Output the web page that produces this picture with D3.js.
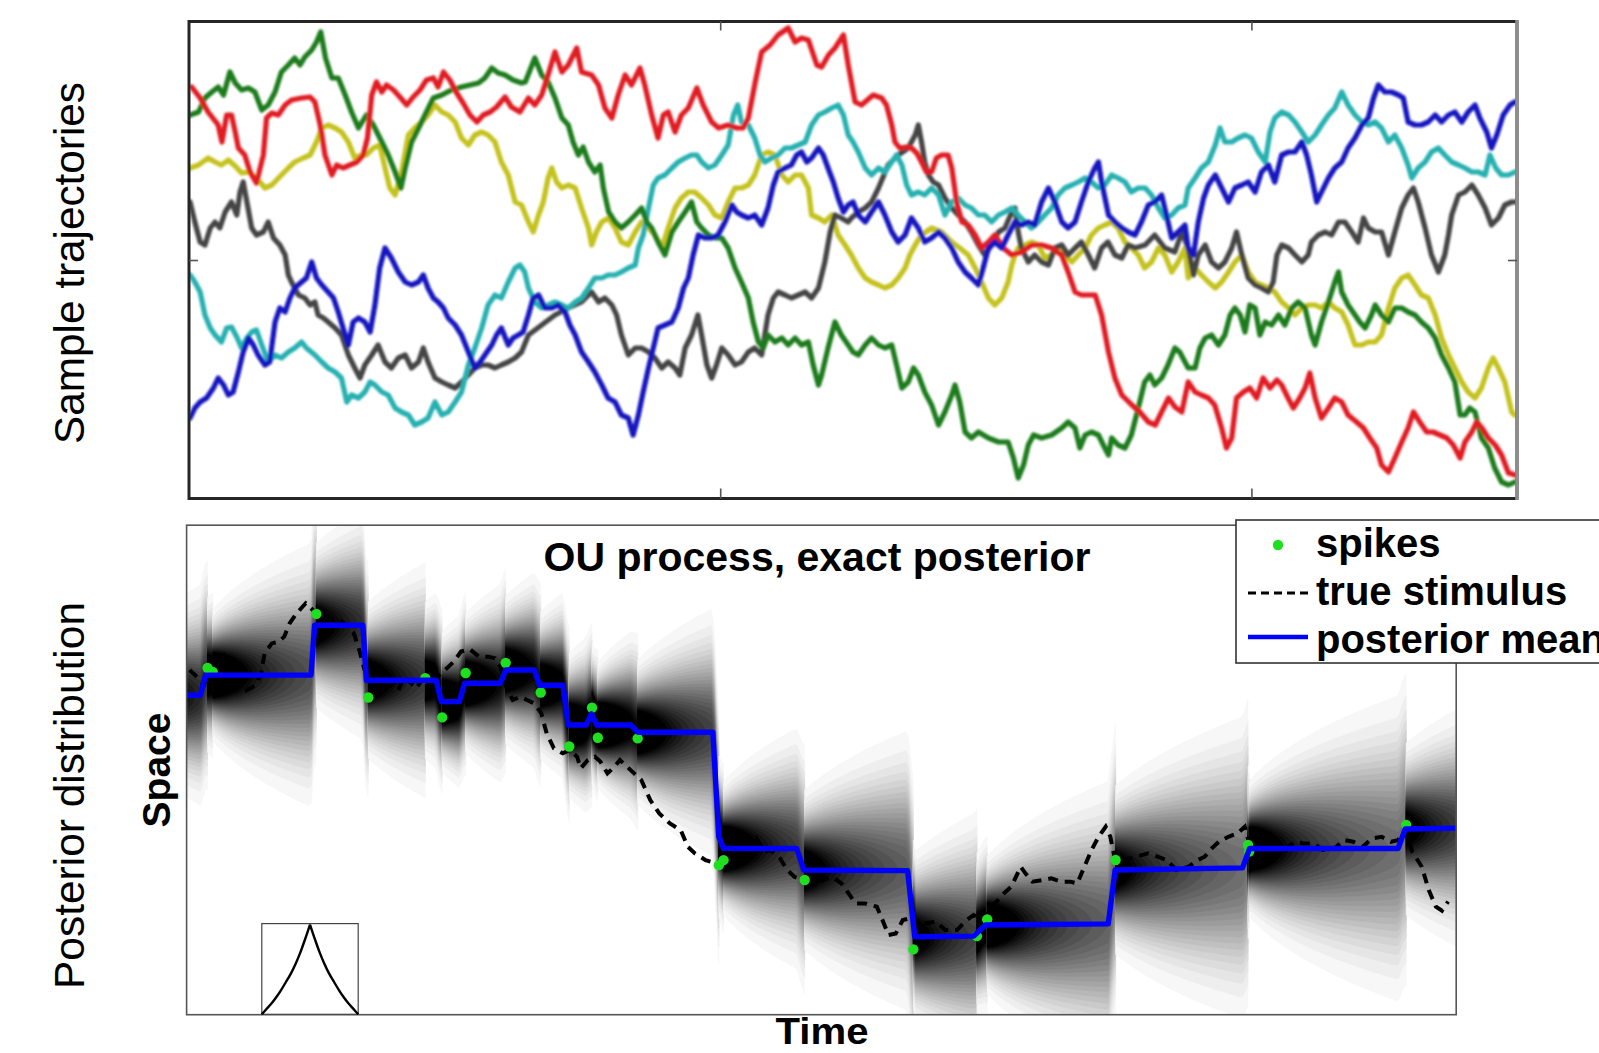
<!DOCTYPE html>
<html>
<head>
<meta charset="utf-8">
<script src="https://cdn.jsdelivr.net/npm/d3@7"></script>
<style>
  html, body { margin: 0; padding: 0; background: #fff; }
  svg { display: block; }
</style>
</head>
<body>
<svg id="fig" width="1599" height="1053"></svg>
<script>
// ---------------- Top panel: sample OU trajectories, [time, value] ----------------
const sampleRed = [[0.5,1.73],[2.1,1.62],[3.6,1.48],[5.5,1.35],[6.2,1.18],[7.1,1.45],[8.0,1.45],[8.7,1.28],[9.3,1.12],[10.5,1.05],[11.5,0.88],[12.7,0.77],[14.0,1.05],[14.6,1.42],[15.6,1.47],[16.8,1.45],[18.1,1.55],[19.3,1.60],[21.2,1.62],[22.8,1.63],[23.7,1.58],[24.7,1.35],[25.6,1.05],[26.9,0.85],[27.8,0.95],[29.0,0.92],[30.3,0.95],[31.6,0.98],[32.8,1.05],[33.6,1.22],[34.4,1.65],[35.3,1.78],[36.3,1.68],[37.2,1.75],[38.5,1.70],[39.7,1.63],[41.0,1.55],[42.2,1.63],[43.5,1.70],[44.7,1.80],[46.0,1.82],[46.9,1.73],[47.9,1.88],[49.1,1.80],[50.4,1.67],[51.6,1.57],[52.9,1.45],[54.2,1.38],[55.4,1.45],[56.7,1.48],[57.9,1.53],[59.5,1.63],[60.7,1.53],[62.3,1.48],[63.9,1.62],[65.1,1.55],[66.4,1.65],[67.6,1.85],[68.9,2.08],[70.2,1.88],[71.4,1.95],[73.0,2.12],[73.9,1.88],[75.8,1.85],[77.1,1.75],[78.3,1.52],[79.6,1.42],[80.8,1.65],[82.1,1.85],[83.3,1.75],[84.9,1.92],[85.8,1.75],[87.1,1.45],[88.3,1.22],[89.3,1.45],[90.2,1.48],[91.5,1.28],[92.7,1.45],[94.0,1.52],[95.6,1.72],[96.8,1.55],[98.4,1.38],[99.7,1.32],[101.5,1.35],[103.1,1.32],[104.3,1.32],[105.3,1.42],[106.6,1.78],[107.8,2.08],[109.4,2.15],[110.9,2.25],[112.8,2.32],[114.1,2.18],[115.3,2.22],[116.6,2.20],[118.2,1.95],[119.1,1.93],[120.4,2.05],[121.6,2.12],[123.2,2.25],[124.1,1.95],[125.4,1.58],[126.6,1.55],[128.8,1.65],[130.4,1.62],[131.3,1.55],[132.3,1.35],[132.9,1.18],[133.8,1.12],[135.1,1.13],[136.0,1.12],[137.0,1.07],[137.9,0.98],[138.8,0.88],[139.8,0.88],[140.7,1.02],[141.7,1.05],[142.9,1.05],[143.6,0.92],[144.5,0.58],[145.5,0.38],[146.7,0.35],[148.0,0.25],[149.2,0.12],[150.5,0.18],[151.7,0.25],[153.3,0.12],[154.9,0.05],[156.7,0.08],[158.6,0.15],[160.5,0.15],[162.4,0.12],[164.3,0.05],[165.5,-0.12],[166.8,-0.32],[168.0,-0.35],[170.6,-0.35],[171.8,-0.55],[173.1,-0.92],[174.3,-1.18],[175.6,-1.35],[177.5,-1.45],[179.0,-1.52],[180.6,-1.62],[181.9,-1.65],[183.1,-1.52],[184.4,-1.38],[185.6,-1.47],[186.9,-1.52],[188.1,-1.22],[189.4,-1.32],[190.6,-1.35],[191.9,-1.38],[193.1,-1.45],[194.4,-1.68],[195.3,-1.88],[196.3,-1.78],[197.2,-1.38],[198.5,-1.32],[199.7,-1.28],[201.0,-1.38],[202.2,-1.18],[203.5,-1.28],[204.8,-1.20],[205.7,-1.25],[206.9,-1.38],[207.9,-1.48],[209.1,-1.38],[210.1,-1.28],[211.0,-1.13],[212.0,-1.38],[213.2,-1.58],[214.5,-1.48],[215.7,-1.38],[217.0,-1.42],[218.2,-1.55],[219.8,-1.62],[221.1,-1.68],[222.3,-1.78],[223.6,-1.88],[224.5,-2.05],[225.8,-2.12],[227.0,-1.98],[228.3,-1.82],[229.5,-1.68],[230.5,-1.52],[231.7,-1.62],[233.0,-1.72],[234.2,-1.72],[235.5,-1.75],[236.8,-1.78],[238.0,-1.85],[239.3,-1.98],[240.2,-1.82],[241.5,-1.72],[242.4,-1.62],[243.4,-1.68],[244.6,-1.78],[245.9,-1.85],[247.1,-1.95],[248.4,-2.13],[249.7,-2.15]];

const sampleGreen = [[0.2,1.45],[1.8,1.48],[3.0,1.62],[4.3,1.68],[5.5,1.73],[6.5,1.65],[7.7,1.88],[8.7,1.77],[9.9,1.70],[11.2,1.72],[12.4,1.68],[13.7,1.50],[14.9,1.55],[16.2,1.68],[17.4,1.88],[18.7,1.95],[19.9,2.02],[20.9,1.95],[21.8,2.03],[23.1,2.10],[24.0,2.18],[24.8,2.28],[25.7,2.02],[26.9,1.82],[28.1,1.82],[29.4,1.65],[30.6,1.48],[31.9,1.32],[33.4,1.45],[34.7,1.35],[36.3,1.18],[37.5,1.05],[38.8,0.88],[39.9,0.72],[40.7,0.92],[41.9,1.18],[43.5,1.35],[44.7,1.48],[46.0,1.62],[47.6,1.65],[49.4,1.70],[51.3,1.73],[52.9,1.75],[54.5,1.77],[55.7,1.82],[57.0,1.92],[58.2,1.87],[59.5,1.85],[61.0,1.80],[62.6,1.77],[63.3,1.78],[65.1,2.02],[66.4,1.85],[67.6,1.78],[68.9,1.62],[70.2,1.42],[71.4,1.35],[72.3,1.18],[73.3,1.05],[74.2,1.13],[75.2,0.98],[76.4,0.88],[77.4,0.95],[78.0,0.72],[79.0,0.48],[80.2,0.38],[81.4,0.32],[82.7,0.38],[84.0,0.45],[85.2,0.52],[86.2,0.38],[87.1,0.32],[88.3,0.18],[89.6,0.05],[90.9,0.28],[92.1,0.38],[93.4,0.48],[94.6,0.58],[95.6,0.38],[96.5,0.32],[97.8,0.25],[99.0,0.22],[100.3,0.22],[101.5,0.12],[102.8,-0.08],[104.0,-0.22],[105.3,-0.38],[106.2,-0.62],[107.2,-0.82],[108.1,-0.88],[109.0,-0.75],[110.3,-0.82],[111.6,-0.78],[112.8,-0.85],[114.1,-0.78],[115.3,-0.85],[116.6,-0.82],[117.5,-1.05],[118.5,-1.25],[119.1,-1.15],[120.3,-0.88],[121.6,-0.62],[122.8,-0.75],[124.1,-0.85],[125.0,-0.92],[126.0,-0.95],[127.3,-0.85],[128.5,-0.78],[129.8,-0.85],[131.0,-0.88],[132.3,-0.85],[133.2,-1.05],[134.2,-1.28],[135.4,-1.22],[136.4,-1.08],[137.3,-1.15],[138.5,-1.32],[139.8,-1.45],[141.1,-1.65],[142.3,-1.52],[143.6,-1.35],[144.2,-1.25],[145.1,-1.42],[146.1,-1.72],[147.3,-1.78],[148.6,-1.72],[150.5,-1.78],[152.4,-1.82],[154.2,-1.82],[155.2,-1.98],[156.1,-2.18],[157.1,-2.05],[158.0,-1.85],[159.0,-1.75],[160.5,-1.78],[162.4,-1.75],[164.3,-1.68],[165.5,-1.62],[166.8,-1.68],[167.7,-1.88],[168.7,-1.75],[169.9,-1.72],[171.2,-1.75],[172.4,-1.88],[173.1,-1.95],[173.7,-1.78],[174.9,-1.85],[176.2,-1.88],[177.4,-1.75],[178.7,-1.48],[179.9,-1.22],[180.9,-1.15],[181.8,-1.25],[183.1,-1.18],[184.3,-1.05],[185.6,-0.88],[186.5,-0.92],[187.5,-1.02],[188.1,-1.08],[189.4,-1.08],[190.3,-0.88],[191.3,-0.78],[192.5,-0.75],[193.8,-0.85],[195.0,-0.75],[196.0,-0.55],[196.9,-0.48],[197.9,-0.55],[198.8,-0.72],[199.7,-0.45],[200.7,-0.48],[201.6,-0.75],[202.6,-0.62],[203.8,-0.65],[205.1,-0.55],[206.3,-0.65],[207.6,-0.48],[208.8,-0.42],[210.1,-0.48],[211.3,-0.75],[212.0,-0.85],[213.2,-0.62],[214.5,-0.42],[215.7,-0.22],[216.4,-0.12],[217.0,-0.32],[218.2,-0.45],[219.5,-0.55],[220.4,-0.62],[221.4,-0.68],[222.6,-0.55],[223.3,-0.45],[224.5,-0.55],[225.8,-0.62],[227.0,-0.48],[228.3,-0.48],[229.5,-0.52],[230.8,-0.55],[232.0,-0.62],[233.3,-0.68],[234.6,-0.78],[235.8,-0.95],[237.1,-1.08],[238.3,-1.22],[239.3,-1.55],[240.2,-1.55],[241.1,-1.48],[242.1,-1.52],[243.3,-1.78],[244.6,-1.88],[245.8,-2.08],[247.1,-2.22],[248.4,-2.25],[249.6,-2.22]];

const sampleYellow = [[0.2,0.92],[1.8,0.95],[3.6,1.02],[4.9,0.98],[6.1,0.95],[7.4,1.0],[8.7,0.94],[9.9,0.87],[11.2,0.88],[12.7,0.82],[14.3,0.72],[15.6,0.75],[17.4,0.85],[18.7,0.92],[19.9,0.98],[21.5,1.02],[22.8,1.05],[24.0,1.18],[25.0,1.32],[26.2,1.35],[27.5,1.32],[28.7,1.28],[30.0,1.18],[31.2,1.02],[32.5,1.05],[33.4,1.05],[34.7,1.12],[35.9,1.15],[36.9,0.92],[37.8,0.72],[38.8,0.65],[40.0,0.88],[41.3,1.25],[42.5,1.32],[43.8,1.38],[45.0,1.45],[46.3,1.55],[47.6,1.48],[48.8,1.45],[50.1,1.38],[51.3,1.22],[52.6,1.15],[53.8,1.25],[55.1,1.28],[56.3,1.25],[57.6,1.18],[58.8,0.98],[60.1,0.85],[61.4,0.58],[62.6,0.55],[63.9,0.38],[64.8,0.28],[65.8,0.45],[66.7,0.58],[67.6,0.82],[68.3,0.92],[69.2,0.78],[70.2,0.72],[71.4,0.75],[72.7,0.72],[73.9,0.52],[75.2,0.32],[75.8,0.15],[76.7,0.28],[77.7,0.38],[79.0,0.42],[80.2,0.32],[81.4,0.18],[82.7,0.15],[84.0,0.28],[85.2,0.38],[86.5,0.32],[87.7,0.25],[89.0,0.12],[90.2,0.32],[91.5,0.52],[92.7,0.62],[94.0,0.68],[95.2,0.68],[96.5,0.62],[97.8,0.55],[99.0,0.45],[100.3,0.42],[101.5,0.58],[102.8,0.72],[104.0,0.72],[105.3,0.75],[106.5,0.85],[107.8,1.05],[109.0,1.08],[110.3,1.05],[111.6,0.85],[112.8,0.78],[114.1,0.85],[115.3,0.85],[116.6,0.72],[117.2,0.45],[118.5,0.42],[119.7,0.38],[121.0,0.45],[122.2,0.25],[123.5,0.15],[124.7,0.05],[126.0,-0.08],[127.3,-0.18],[128.5,-0.22],[129.8,-0.25],[131.0,-0.28],[132.3,-0.25],[133.5,-0.18],[134.8,-0.08],[135.7,0.05],[136.7,0.15],[137.9,0.25],[139.8,0.32],[141.7,0.28],[143.6,0.18],[145.1,0.12],[146.7,0.05],[148.0,-0.08],[149.2,-0.22],[150.5,-0.38],[151.7,-0.45],[153.0,-0.38],[154.2,-0.22],[154.9,-0.05],[155.5,0.05],[156.1,0.12],[157.4,0.15],[158.6,0.18],[159.9,0.15],[161.1,0.02],[162.4,0.05],[163.6,0.12],[164.9,0.05],[166.2,-0.02],[167.4,0.05],[168.7,0.12],[169.9,0.25],[171.2,0.32],[172.4,0.35],[173.7,0.38],[174.9,0.32],[176.2,0.18],[177.4,0.12],[178.7,0.05],[179.9,-0.08],[181.2,-0.02],[182.5,0.12],[183.7,0.05],[185.0,-0.12],[186.2,-0.02],[187.5,0.12],[188.1,-0.18],[189.4,-0.08],[190.6,-0.15],[191.9,-0.22],[193.2,-0.28],[194.4,-0.22],[195.7,-0.12],[196.9,-0.02],[198.2,0.05],[199.4,-0.12],[200.7,-0.22],[201.9,-0.25],[203.2,-0.28],[204.4,-0.32],[205.7,-0.42],[207.0,-0.48],[208.2,-0.55],[209.5,-0.48],[210.7,-0.45],[212.0,-0.45],[213.2,-0.48],[214.5,-0.42],[215.7,-0.48],[217.0,-0.52],[218.2,-0.65],[219.5,-0.85],[220.8,-0.85],[222.0,-0.82],[223.3,-0.82],[224.5,-0.75],[225.8,-0.48],[227.0,-0.28],[228.3,-0.18],[229.5,-0.15],[230.8,-0.25],[232.0,-0.35],[233.3,-0.38],[234.6,-0.55],[235.8,-0.78],[237.1,-0.95],[238.3,-1.08],[239.6,-1.22],[240.8,-1.32],[242.1,-1.38],[243.3,-1.28],[244.6,-1.08],[245.5,-0.98],[246.5,-1.08],[247.7,-1.22],[249.0,-1.52],[249.6,-1.55]];

const sampleGray = [[0.2,0.58],[1.1,0.38],[2.1,0.18],[3.0,0.15],[4.0,0.32],[4.9,0.38],[5.8,0.32],[6.8,0.48],[8.0,0.58],[9.0,0.45],[9.6,0.68],[10.2,0.78],[10.9,0.58],[11.8,0.32],[12.7,0.25],[14.0,0.28],[14.9,0.38],[15.9,0.22],[17.1,0.15],[18.1,0.05],[18.7,-0.15],[19.3,-0.22],[20.6,-0.35],[21.8,-0.38],[22.8,-0.45],[23.7,-0.42],[24.3,-0.55],[25.3,-0.58],[26.2,-0.62],[27.5,-0.68],[28.7,-0.75],[30.0,-0.95],[31.2,-1.08],[32.2,-1.18],[33.1,-1.05],[34.4,-0.95],[35.6,-0.85],[36.9,-1.02],[38.1,-1.08],[39.4,-0.98],[40.7,-0.95],[41.9,-1.08],[43.2,-1.02],[44.1,-0.88],[45.0,-1.02],[46.3,-1.18],[47.6,-1.22],[48.8,-1.25],[50.1,-1.28],[51.3,-1.22],[52.6,-1.15],[53.8,-1.08],[55.1,-1.05],[56.3,-1.05],[57.6,-1.08],[58.8,-1.05],[60.1,-1.02],[61.4,-0.98],[62.6,-0.92],[63.9,-0.75],[66.4,-0.65],[68.9,-0.55],[71.4,-0.48],[73.9,-0.42],[75.8,-0.32],[77.1,-0.42],[78.3,-0.38],[79.6,-0.45],[80.5,-0.55],[81.4,-0.75],[82.7,-0.95],[84.0,-0.88],[85.2,-0.88],[86.5,-0.92],[87.7,-0.98],[89.0,-1.08],[90.2,-1.02],[91.5,-1.08],[92.4,-1.15],[93.4,-0.88],[94.6,-0.75],[95.8,-0.55],[96.5,-0.75],[97.5,-1.05],[98.4,-1.18],[99.3,-1.05],[100.3,-0.88],[101.5,-0.95],[102.8,-1.05],[104.0,-1.02],[105.3,-0.92],[106.5,-0.88],[107.8,-0.95],[109.0,-0.55],[110.0,-0.38],[110.9,-0.32],[112.2,-0.35],[113.4,-0.38],[114.7,-0.35],[116.0,-0.32],[117.2,-0.38],[118.5,-0.28],[119.7,-0.02],[120.7,0.28],[121.6,0.45],[122.8,0.42],[124.1,0.38],[124.7,0.42],[126.0,0.48],[127.3,0.52],[128.5,0.58],[129.8,0.72],[131.6,0.95],[133.5,1.05],[135.4,1.12],[136.7,1.25],[137.3,1.35],[137.9,1.18],[138.5,0.98],[139.2,0.85],[140.1,0.78],[141.1,0.75],[142.3,0.62],[143.6,0.52],[144.8,0.45],[146.1,0.38],[147.3,0.28],[148.6,0.15],[149.8,0.05],[151.1,0.15],[152.4,0.28],[153.6,0.32],[154.9,0.48],[155.5,0.52],[156.1,0.28],[156.7,0.12],[158.0,-0.02],[159.2,0.05],[160.5,-0.02],[161.8,-0.05],[163.0,0.12],[164.3,0.15],[165.5,0.05],[166.8,0.12],[168.0,0.18],[169.3,0.05],[170.5,-0.08],[171.8,0.12],[173.0,0.18],[174.3,0.05],[175.6,0.02],[176.8,0.15],[178.1,0.12],[180.0,0.15],[181.8,0.25],[183.7,0.12],[185.6,0.08],[186.9,0.28],[188.1,0.12],[189.1,-0.15],[190.0,0.05],[191.3,0.15],[192.5,-0.02],[193.8,-0.08],[195.0,-0.02],[196.3,0.12],[197.2,0.28],[198.2,0.05],[199.4,-0.18],[200.7,-0.25],[201.9,-0.28],[203.2,-0.32],[204.1,-0.22],[204.8,0.05],[205.7,0.15],[207.0,0.12],[208.2,0.05],[209.5,-0.02],[210.7,0.05],[211.3,0.18],[212.6,0.25],[213.9,0.28],[215.1,0.25],[216.4,0.38],[217.6,0.38],[218.9,0.28],[220.1,0.18],[221.1,0.42],[222.0,0.32],[223.3,0.28],[224.5,0.28],[225.8,0.05],[227.0,0.28],[228.3,0.52],[229.5,0.65],[230.5,0.72],[231.4,0.58],[232.7,0.32],[233.9,0.05],[235.2,-0.12],[236.4,0.05],[237.1,0.25],[237.7,0.45],[239.0,0.65],[240.2,0.68],[241.5,0.75],[242.7,0.65],[244.0,0.52],[245.2,0.35],[246.5,0.42],[247.7,0.55],[249.0,0.58],[249.9,0.58]];

const sampleCyan = [[0.2,-0.15],[1.1,-0.22],[2.1,-0.32],[3.0,-0.55],[4.0,-0.68],[4.9,-0.75],[6.1,-0.82],[7.1,-0.68],[8.0,-0.67],[9.0,-0.77],[9.9,-0.88],[10.9,-0.78],[11.8,-0.72],[12.7,-0.70],[13.7,-0.85],[14.9,-1.02],[16.2,-0.95],[17.4,-0.98],[18.7,-0.92],[19.9,-0.88],[21.2,-0.82],[22.1,-0.88],[23.7,-0.95],[25.0,-1.02],[26.2,-1.08],[27.5,-1.12],[28.7,-1.18],[29.7,-1.42],[30.6,-1.35],[31.9,-1.38],[33.1,-1.32],[34.1,-1.22],[35.0,-1.25],[36.3,-1.32],[37.5,-1.35],[38.8,-1.48],[40.0,-1.52],[41.3,-1.55],[42.5,-1.65],[43.8,-1.62],[45.0,-1.58],[46.3,-1.42],[47.6,-1.55],[48.8,-1.52],[50.1,-1.42],[51.3,-1.32],[52.6,-1.05],[53.8,-0.88],[55.1,-0.68],[56.3,-0.45],[57.6,-0.35],[58.8,-0.38],[60.1,-0.22],[61.4,-0.08],[62.3,-0.05],[63.2,-0.12],[63.9,-0.28],[65.1,-0.42],[66.4,-0.48],[67.6,-0.45],[68.9,-0.42],[70.2,-0.45],[71.4,-0.48],[72.7,-0.42],[73.9,-0.38],[75.2,-0.28],[76.4,-0.18],[77.7,-0.18],[78.9,-0.15],[80.2,-0.15],[81.4,-0.12],[82.7,-0.08],[84.0,-0.05],[84.6,0.12],[85.5,0.25],[86.5,0.52],[87.4,0.75],[88.3,0.82],[89.6,0.85],[90.9,0.92],[92.1,0.98],[93.4,1.02],[94.6,1.05],[95.6,1.05],[96.5,0.98],[97.8,0.92],[99.0,0.95],[100.3,1.05],[101.5,1.15],[102.5,1.45],[103.3,1.55],[104.0,1.38],[105.3,1.35],[106.5,1.22],[107.5,1.05],[108.4,0.98],[109.7,1.02],[110.9,1.05],[112.2,1.12],[113.4,1.12],[114.7,1.15],[116.0,1.18],[117.2,1.35],[118.5,1.45],[119.7,1.48],[121.0,1.52],[122.2,1.55],[123.2,1.45],[124.1,1.25],[125.0,1.18],[126.0,1.08],[127.3,0.92],[128.5,0.85],[129.8,0.92],[131.0,0.88],[132.3,0.98],[133.2,1.05],[134.2,0.95],[135.1,0.75],[136.0,0.65],[137.3,0.68],[138.5,0.65],[139.8,0.72],[141.1,0.65],[142.3,0.45],[143.6,0.58],[144.8,0.62],[146.1,0.55],[147.3,0.52],[148.6,0.45],[149.8,0.45],[151.1,0.38],[152.4,0.45],[153.6,0.48],[154.9,0.52],[156.1,0.45],[157.4,0.38],[158.6,0.32],[159.9,0.38],[161.1,0.45],[162.4,0.52],[163.6,0.65],[164.9,0.72],[166.2,0.75],[167.4,0.78],[168.7,0.82],[169.9,0.78],[171.2,0.72],[172.4,0.75],[173.7,0.85],[174.9,0.82],[176.2,0.78],[177.4,0.68],[178.7,0.72],[180.0,0.72],[181.2,0.65],[182.5,0.52],[183.7,0.42],[185.0,0.45],[186.2,0.52],[187.5,0.55],[188.1,0.72],[189.4,0.82],[190.6,0.92],[191.9,0.98],[193.2,1.15],[194.1,1.32],[195.0,1.18],[196.3,1.18],[197.5,1.22],[198.8,1.25],[200.0,1.22],[201.3,1.08],[202.6,0.98],[203.5,1.28],[204.4,1.42],[205.7,1.48],[207.0,1.45],[208.2,1.38],[209.5,1.28],[210.7,1.18],[212.0,1.25],[213.2,1.35],[214.5,1.45],[215.7,1.52],[217.0,1.68],[218.2,1.55],[219.5,1.45],[220.8,1.38],[222.0,1.35],[223.3,1.38],[224.5,1.32],[225.8,1.18],[227.0,1.25],[228.3,1.12],[229.5,0.95],[230.2,0.82],[231.4,0.92],[232.7,0.98],[233.9,1.08],[235.2,1.12],[236.4,1.05],[237.7,0.98],[239.0,0.95],[240.2,0.92],[241.5,0.88],[242.7,0.88],[244.0,0.85],[244.9,1.05],[246.0,0.92],[247.1,0.85],[248.4,0.85],[249.6,0.88]];

const sampleBlue = [[0.2,-1.58],[1.1,-1.48],[2.1,-1.42],[3.3,-1.38],[4.6,-1.28],[5.5,-1.18],[6.5,-1.25],[7.4,-1.35],[8.3,-1.32],[9.3,-1.12],[10.2,-0.92],[11.2,-0.78],[12.1,-0.85],[13.0,-0.95],[14.3,-1.05],[15.2,-1.02],[16.2,-0.62],[17.1,-0.48],[18.1,-0.52],[19.0,-0.38],[19.9,-0.28],[21.2,-0.22],[22.1,-0.18],[23.1,-0.02],[24.0,-0.18],[25.0,-0.25],[26.2,-0.32],[27.2,-0.38],[28.1,-0.52],[29.0,-0.68],[30.0,-0.85],[30.9,-0.62],[31.9,-0.58],[33.1,-0.62],[34.1,-0.72],[35.0,-0.45],[35.9,-0.08],[36.9,0.12],[38.1,0.02],[39.4,-0.12],[40.7,-0.22],[41.9,-0.25],[43.2,-0.22],[44.1,-0.15],[45.0,-0.28],[46.0,-0.38],[46.9,-0.42],[47.9,-0.48],[48.8,-0.58],[50.1,-0.65],[51.3,-0.75],[52.6,-0.92],[53.8,-1.08],[54.8,-1.02],[55.7,-0.95],[57.0,-0.85],[57.9,-0.75],[58.8,-0.68],[60.1,-0.85],[61.0,-0.78],[62.0,-0.75],[62.9,-0.72],[63.9,-0.55],[64.8,-0.38],[65.8,-0.35],[67.0,-0.48],[68.3,-0.48],[69.5,-0.45],[70.8,-0.52],[71.7,-0.65],[72.7,-0.75],[73.9,-0.92],[75.2,-1.02],[76.4,-1.12],[77.7,-1.25],[78.9,-1.38],[80.2,-1.42],[81.4,-1.55],[82.7,-1.58],[83.6,-1.75],[84.6,-1.55],[85.5,-1.32],[86.5,-1.08],[87.4,-0.88],[88.3,-0.68],[89.6,-0.65],[90.9,-0.62],[92.1,-0.48],[93.1,-0.28],[94.0,-0.18],[94.9,0.05],[95.9,0.25],[97.1,0.22],[98.4,0.22],[99.6,0.25],[100.9,0.38],[102.2,0.55],[103.1,0.48],[104.0,0.45],[105.3,0.42],[106.5,0.45],[107.8,0.35],[109.0,0.52],[110.0,0.75],[110.9,0.88],[112.2,0.92],[113.4,0.95],[114.4,1.05],[115.3,1.08],[116.3,0.98],[117.2,1.02],[118.5,1.12],[119.4,1.05],[120.3,0.92],[121.3,0.78],[122.2,0.62],[123.2,0.48],[124.1,0.55],[125.0,0.58],[126.0,0.45],[127.3,0.38],[128.5,0.48],[129.8,0.58],[131.0,0.45],[132.3,0.28],[133.5,0.18],[134.8,0.25],[136.0,0.42],[137.3,0.32],[138.5,0.18],[139.8,0.22],[141.1,0.28],[142.3,0.22],[143.6,0.12],[144.8,-0.02],[146.1,-0.12],[147.3,-0.18],[148.6,-0.25],[149.5,-0.08],[150.5,0.12],[151.7,0.18],[153.0,0.12],[154.2,0.25],[155.5,0.38],[156.7,0.35],[158.0,0.38],[159.2,0.35],[160.5,0.58],[161.8,0.72],[163.0,0.58],[164.3,0.38],[165.5,0.32],[166.8,0.38],[168.0,0.58],[169.3,0.78],[170.5,0.92],[171.2,0.98],[171.8,0.78],[173.1,0.45],[174.3,0.38],[175.6,0.32],[176.8,0.28],[178.1,0.25],[179.3,0.38],[180.6,0.55],[181.8,0.58],[183.1,0.65],[184.0,0.45],[185.0,0.22],[186.2,0.28],[187.5,0.35],[188.1,0.12],[189.1,0.05],[190.0,0.38],[191.0,0.62],[191.9,0.75],[193.2,0.85],[194.4,0.72],[195.7,0.58],[196.9,0.72],[198.2,0.75],[199.4,0.78],[200.7,0.68],[201.9,0.88],[203.2,0.95],[204.4,0.78],[205.7,1.05],[207.0,1.08],[208.2,1.08],[209.5,1.18],[210.4,1.05],[211.3,0.85],[212.3,0.58],[213.2,0.68],[214.5,0.82],[215.7,0.92],[217.0,0.98],[218.2,1.12],[219.5,1.22],[220.8,1.35],[222.0,1.42],[223.0,1.62],[223.9,1.75],[225.1,1.68],[226.4,1.68],[227.7,1.65],[228.6,1.62],[229.5,1.38],[230.8,1.35],[232.0,1.35],[233.3,1.38],[234.6,1.45],[235.8,1.38],[237.1,1.45],[238.3,1.48],[239.6,1.38],[240.8,1.48],[242.1,1.55],[243.0,1.42],[244.3,1.28],[245.2,1.12],[246.2,1.25],[247.4,1.45],[248.7,1.55],[249.6,1.58]];

const topSeries = [sampleYellow, sampleGray, sampleCyan, sampleGreen, sampleRed, sampleBlue];
const topColors = ['#c4c21e', '#444444', '#26b0b0', '#1c7c1c', '#e01a24', '#1212c0'];
const topTicksX = [100, 200];
const topTicksY = [0];

// ---------------- Bottom panel: spikes, stimulus, posterior mean ----------------
const spikeTimes = [0.165,0.206,1.022,1.431,1.880,2.013,2.198,2.513,2.789,3.014,3.193,3.239,3.553,4.192,4.229,4.868,5.724,6.225,6.306,7.317,8.360,8.369,9.606];
const spikePos   = [0.833,0.800,1.275,0.592,0.750,0.430,0.792,0.875,0.633,0.192,0.508,0.263,0.258,-0.778,-0.737,-0.899,-1.466,-1.358,-1.221,-0.736,-0.613,-0.667,-0.449];

const stimTime = [0.024,0.080,0.137,0.178,0.235,0.291,0.333,0.390,0.446,0.474,0.545,0.586,0.614,0.671,0.727,0.769,0.811,0.867,0.938,0.994,1.051,1.107,1.163,1.219,1.276,1.317,1.360,1.402,1.444,1.500,1.557,1.613,1.669,1.712,1.768,1.810,1.852,1.922,1.993,2.049,2.105,2.161,2.232,2.302,2.373,2.429,2.471,2.527,2.569,2.626,2.682,2.738,2.794,2.836,2.893,2.963,3.019,3.076,3.104,3.160,3.216,3.259,3.315,3.371,3.413,3.469,3.525,3.582,3.652,3.723,3.807,3.892,3.948,4.004,4.088,4.173,4.210,4.285,4.359,4.434,4.489,4.545,4.601,4.675,4.731,4.787,4.861,4.935,5.010,5.084,5.158,5.214,5.270,5.344,5.437,5.492,5.529,5.586,5.641,5.697,5.753,5.808,5.901,5.975,6.068,6.143,6.198,6.272,6.347,6.422,6.496,6.570,6.607,6.663,6.737,6.811,6.886,6.960,7.016,7.071,7.128,7.183,7.239,7.276,7.313,7.387,7.480,7.573,7.647,7.722,7.796,7.889,7.963,8.019,8.075,8.130,8.205,8.279,8.335,8.372,8.428,8.502,8.577,8.651,8.725,8.799,8.874,8.948,9.041,9.116,9.190,9.264,9.338,9.413,9.487,9.542,9.598,9.654,9.729,9.784,9.840,9.888,9.936];
const stimPos  = [0.817,0.762,0.694,0.817,0.898,0.939,0.817,0.789,0.762,0.653,0.694,0.789,0.953,1.034,1.048,1.089,1.198,1.280,1.362,1.307,1.239,1.225,1.225,1.212,1.171,1.117,0.980,0.817,0.721,0.694,0.667,0.694,0.653,0.762,0.708,0.667,0.735,0.762,0.776,0.830,0.885,0.967,0.986,0.926,0.926,0.912,0.844,0.653,0.572,0.598,0.572,0.544,0.463,0.299,0.177,0.136,0.163,0.108,0.013,0.081,0.108,0.068,-0.028,0.027,0.081,0.027,-0.028,-0.083,-0.246,-0.355,-0.437,-0.492,-0.628,-0.682,-0.737,-0.763,-0.737,-0.668,-0.696,-0.613,-0.559,-0.668,-0.654,-0.723,-0.818,-0.873,-0.900,-0.873,-0.900,-0.873,-0.927,-1.009,-1.091,-1.091,-1.118,-1.254,-1.349,-1.336,-1.227,-1.213,-1.295,-1.254,-1.240,-1.308,-1.308,-1.227,-1.186,-1.227,-1.118,-1.023,-0.954,-0.791,-0.845,-0.913,-0.900,-0.886,-0.913,-0.913,-0.927,-0.791,-0.654,-0.546,-0.464,-0.546,-0.737,-0.737,-0.709,-0.682,-0.709,-0.737,-0.818,-0.792,-0.737,-0.709,-0.641,-0.587,-0.546,-0.518,-0.464,-0.613,-0.682,-0.668,-0.696,-0.654,-0.587,-0.600,-0.600,-0.654,-0.641,-0.573,-0.587,-0.628,-0.559,-0.546,-0.587,-0.573,-0.491,-0.668,-0.791,-0.982,-1.118,-1.150,-1.075];

const meanTime = [0.000,0.108,0.150,0.980,1.008,1.388,1.416,1.965,2.007,2.148,2.190,2.471,2.514,2.739,2.781,2.964,3.006,3.147,3.189,3.231,3.499,3.555,4.145,4.192,4.229,4.805,4.861,5.679,5.735,6.200,6.292,7.259,7.314,8.317,8.373,9.542,9.598,10.000];
const meanPos  = [0.610,0.610,0.775,0.775,1.183,1.183,0.733,0.733,0.558,0.558,0.708,0.708,0.817,0.817,0.692,0.692,0.367,0.367,0.458,0.367,0.367,0.308,0.308,-0.546,-0.641,-0.642,-0.817,-0.823,-1.363,-1.358,-1.267,-1.258,-0.817,-0.800,-0.642,-0.642,-0.483,-0.475];

// Inset: spatial kernel profile (distance from centre, relative height)
const kernelDist   = [0, 0.1, 0.2, 0.3, 0.4, 0.5, 0.6, 0.7, 0.8, 0.9, 1.0];
const kernelHeight = [1, 0.84, 0.69, 0.56, 0.45, 0.36, 0.27, 0.19, 0.12, 0.06, 0.0];

const legendLabels = ['spikes', 'true stimulus', 'posterior mean'];

// ---------------- drawing ----------------
const svg = d3.select('#fig');
const defs = svg.append('defs');
defs.append('filter').attr('id', 'soft')
  .attr('x', '-2%').attr('y', '-2%').attr('width', '104%').attr('height', '104%')
  .append('feGaussianBlur').attr('stdDeviation', 0.85);

svg.append('rect').attr('width', 1599).attr('height', 1053).attr('fill', '#fff');

// ----- top panel -----
const topX = d3.scaleLinear().domain([0, 250]).range([189, 1517]);
const topY = d3.scaleLinear().domain([-2.385, 2.385]).range([498.5, 21.5]);

defs.append('clipPath').attr('id', 'topClip').append('rect')
  .attr('x', 189).attr('y', 21.5).attr('width', 1328).attr('height', 477);

const topLine = d3.line().x(d => topX(d[0])).y(d => topY(d[1]));
const topG = svg.append('g').attr('clip-path', 'url(#topClip)')
  .append('g').attr('filter', 'url(#soft)');
topSeries.forEach((s, i) => {
  topG.append('path').attr('d', topLine(s))
    .attr('fill', 'none').attr('stroke', topColors[i])
    .attr('stroke-width', 5.2).attr('stroke-linejoin', 'round').attr('stroke-linecap', 'round');
});

// frame
svg.append('rect').attr('x', 189).attr('y', 21.5).attr('width', 1328).attr('height', 477)
  .attr('fill', 'none').attr('stroke', '#262626').attr('stroke-width', 3);
svg.append('line').attr('x1', 1517).attr('x2', 1517).attr('y1', 20).attr('y2', 500)
  .attr('stroke', '#8d8d8d').attr('stroke-width', 3.5);

// inward ticks, no labels
function tickStyle(g) {
  g.select('.domain').remove();
  g.selectAll('.tick line').attr('stroke', '#555').attr('stroke-width', 1.6);
  g.selectAll('.tick text').remove();
}
svg.append('g').attr('transform', 'translate(0,498.5)')
  .call(d3.axisTop(topX).tickValues(topTicksX).tickSize(10)).call(tickStyle);
svg.append('g').attr('transform', 'translate(0,21.5)')
  .call(d3.axisBottom(topX).tickValues(topTicksX).tickSize(9)).call(tickStyle);
svg.append('g').attr('transform', 'translate(189,0)')
  .call(d3.axisRight(topY).tickValues(topTicksY).tickSize(9)).call(tickStyle);
svg.append('g').attr('transform', 'translate(1517,0)')
  .call(d3.axisLeft(topY).tickValues(topTicksY).tickSize(9)).call(tickStyle);

// ----- bottom panel -----
const botX = d3.scaleLinear().domain([0, 10]).range([186.6, 1456.2]);
const botY = d3.scaleLinear().domain([-2, 2]).range([1014.7, 525.2]);

defs.append('clipPath').attr('id', 'botClip').append('rect')
  .attr('x', 186.6).attr('y', 525.2).attr('width', 1269.6).attr('height', 489.5);

const meanAt = (function () {
  const bis = d3.bisector(d => d).left;
  return t => {
    const i = bis(meanTime, t);
    if (i <= 0) return meanPos[0];
    if (i >= meanTime.length) return meanPos[meanPos.length - 1];
    const t0 = meanTime[i - 1], t1 = meanTime[i];
    const f = (t - t0) / (t1 - t0);
    return meanPos[i - 1] + f * (meanPos[i] - meanPos[i - 1]);
  };
})();

// posterior density shading: variance grows between spikes, shrinks at each spike
const LEVELS = 28, PEAK = 0.3, DIFFUSION = 0.19, TUNING_VAR = 0.09, PRIOR_VAR = 0.1;
const shade = svg.append('g').attr('clip-path', 'url(#botClip)');
const band = d3.area().x(d => botX(d.t)).y0(d => botY(d.lo)).y1(d => botY(d.hi));
const bounds = [0, ...spikeTimes, 10];
let v = PRIOR_VAR;
for (let k = 0; k < bounds.length - 1; k++) {
  const t0 = bounds[k], t1 = bounds[k + 1];
  if (k > 0) v = 1 / (1 / v + 1 / TUNING_VAR);
  const n = Math.max(2, Math.ceil((t1 - t0) * 50) + 1);
  const samples = d3.range(n).map(i => {
    const t = t0 + (t1 - t0) * i / (n - 1);
    return { t, mu: meanAt(t), s: Math.sqrt(v + DIFFUSION * (t - t0)) };
  });
  for (let L = 1; L <= LEVELS; L++) {
    const p = 0.03 + 0.97 * (L - 1) / (LEVELS - 1);
    const pts = samples.map(d => {
      const r = PEAK / (d.s * p);
      const w = r > 1 ? d.s * Math.sqrt(2 * Math.log(r)) : 0;
      return { t: d.t, lo: d.mu - w, hi: d.mu + w };
    });
    if (pts.every(d => d.hi - d.lo < 1e-4)) continue;
    const g = Math.round(255 * (1 - p));
    shade.append('path').attr('d', band(pts))
      .attr('fill', d3.rgb(g, g, g)).attr('stroke', d3.rgb(g, g, g)).attr('stroke-width', 0.6);
  }
  v = v + DIFFUSION * (t1 - t0);
}

const plot = svg.append('g').attr('clip-path', 'url(#botClip)');
const stimLine = d3.line().x((d, i) => botX(stimTime[i])).y(d => botY(d));
plot.append('path').attr('d', stimLine(stimPos))
  .attr('fill', 'none').attr('stroke', '#000').attr('stroke-width', 4)
  .attr('stroke-dasharray', '10,7');

plot.selectAll('circle.spike').data(spikeTimes).join('circle')
  .attr('class', 'spike')
  .attr('cx', d => botX(d)).attr('cy', (d, i) => botY(spikePos[i]))
  .attr('r', 5.2).attr('fill', '#1ee01e');

const meanLine = d3.line().x((d, i) => botX(meanTime[i])).y(d => botY(d));
plot.append('path').attr('d', meanLine(meanPos))
  .attr('fill', 'none').attr('stroke', '#0000ff').attr('stroke-width', 5.4)
  .attr('stroke-linejoin', 'round');

svg.append('rect').attr('x', 186.6).attr('y', 525.2).attr('width', 1269.6).attr('height', 489.5)
  .attr('fill', 'none').attr('stroke', '#555').attr('stroke-width', 1.6);

// inset kernel
const inX = d3.scaleLinear().domain([-1, 1]).range([261.8, 358.2]);
const inY = d3.scaleLinear().domain([0, 1]).range([1014.3, 924.6]);
svg.append('rect').attr('x', 261.8).attr('y', 923.6).attr('width', 96.4).attr('height', 90.7)
  .attr('fill', '#fff').attr('stroke', '#444').attr('stroke-width', 1.2);
const kLine = d3.line().x(d => inX(d[0])).y(d => inY(d[1])).curve(d3.curveMonotoneX);
const leftHalf = kernelDist.map((d, i) => [-d, kernelHeight[i]]).reverse();
const rightHalf = kernelDist.map((d, i) => [d, kernelHeight[i]]);
[leftHalf, rightHalf].forEach(h => svg.append('path').attr('d', kLine(h))
  .attr('fill', 'none').attr('stroke', '#000').attr('stroke-width', 2.4));

// title and axis labels
const font = 'Liberation Sans, Arial, Helvetica, sans-serif';
svg.append('text').attr('x', 817).attr('y', 571).attr('text-anchor', 'middle')
  .attr('font-family', font).attr('font-weight', 'bold').attr('font-size', 41)
  .text('OU process, exact posterior');
svg.append('text').attr('x', 822).attr('y', 1044).attr('text-anchor', 'middle')
  .attr('font-family', font).attr('font-weight', 'bold').attr('font-size', 37)
  .attr('textLength', 93).attr('lengthAdjust', 'spacingAndGlyphs')
  .text('Time');
svg.append('text').attr('transform', 'translate(170,770) rotate(-90)').attr('text-anchor', 'middle')
  .attr('font-family', font).attr('font-weight', 'bold').attr('font-size', 39)
  .text('Space');

svg.append('text').attr('transform', 'translate(84,263) rotate(-90)').attr('text-anchor', 'middle')
  .attr('font-family', font).attr('font-size', 42).attr('textLength', 362).attr('lengthAdjust', 'spacingAndGlyphs')
  .text('Sample trajectories');
svg.append('text').attr('transform', 'translate(84,795.5) rotate(-90)').attr('text-anchor', 'middle')
  .attr('font-family', font).attr('font-size', 42).attr('textLength', 387).attr('lengthAdjust', 'spacingAndGlyphs')
  .text('Posterior distribution');

// legend
const lg = svg.append('g');
lg.append('rect').attr('x', 1236).attr('y', 520).attr('width', 420).attr('height', 143)
  .attr('fill', '#fff').attr('stroke', '#333').attr('stroke-width', 1.6);
lg.append('circle').attr('cx', 1278).attr('cy', 545).attr('r', 5.2).attr('fill', '#1ee01e');
lg.append('line').attr('x1', 1248).attr('x2', 1308).attr('y1', 593).attr('y2', 593)
  .attr('stroke', '#000').attr('stroke-width', 3).attr('stroke-dasharray', '8,5');
lg.append('line').attr('x1', 1248).attr('x2', 1308).attr('y1', 637).attr('y2', 637)
  .attr('stroke', '#0000ff').attr('stroke-width', 4.5);
legendLabels.forEach((t, i) => lg.append('text').attr('x', 1316).attr('y', 557 + i * 48)
  .attr('font-family', font).attr('font-weight', 'bold').attr('font-size', 40).text(t));
</script>
</body>
</html>
